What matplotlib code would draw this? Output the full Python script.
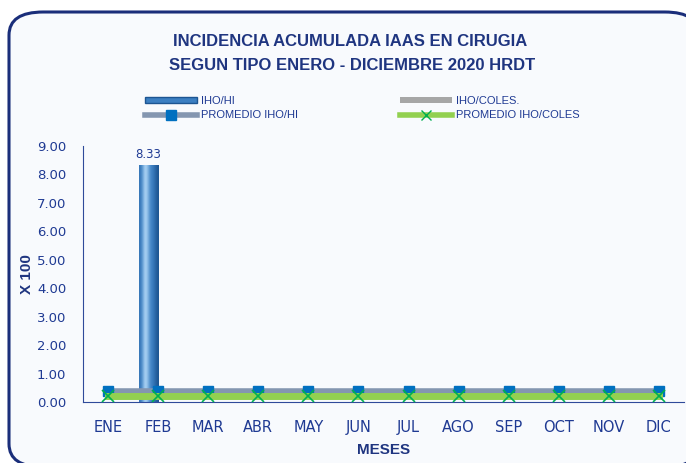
import matplotlib
matplotlib.use("Agg")
import matplotlib.pyplot as plt
import numpy as np
from matplotlib.patches import FancyBboxPatch
from matplotlib.lines import Line2D
from matplotlib.patches import Patch

plt.rcParams['font.family'] = ['Liberation Sans', 'DejaVu Sans']

# data
meses = ["ENE", "FEB", "MAR", "ABR", "MAY", "JUN", "JUL", "AGO", "SEP", "OCT", "NOV", "DIC"]
iho_hi = [0, 8.33, 0, 0, 0, 0, 0, 0, 0, 0, 0, 0]
iho_coles = [0, 0, 0, 0, 0, 0, 0, 0, 0, 0, 0, 0]
prom_iho_hi = [0.38] * 12
prom_iho_coles = [0.21] * 12

navy = "#1F3580"
tick_col = "#1F3A93"

fig = plt.figure(figsize=(6.86, 4.63), dpi=100)
fig.patch.set_facecolor("white")

# rounded frame
frame = FancyBboxPatch((9 / 686, 1 - 467 / 463), 690 / 686, 455 / 463,
                       boxstyle="round,pad=0,rounding_size=0.05",
                       transform=fig.transFigure, facecolor="#F8FAFD",
                       edgecolor="#1A2E7A", linewidth=2.2, zorder=-5)
fig.patches.append(frame)

ax = fig.add_axes([83 / 686, 61 / 463, 601 / 686, 256 / 463])
ax.set_facecolor("none")
ax.set_zorder(2)

x = np.arange(len(meses))
w = 0.38
bars = ax.bar(x - w / 2, iho_hi, width=w, color="#3C7FC2", zorder=2)
# cylinder style gradient on bars
grad = np.array([[0.25, 0.55, 0.95, 0.75, 0.4, 0.3, 0.15, 0.0]])
cmap = matplotlib.colors.LinearSegmentedColormap.from_list(
    "cyl", ["#1D5592", "#3C7FC2", "#6FA8DC", "#B5DAF7"])
for b in bars:
    if b.get_height() <= 0:
        continue
    ax.imshow(grad, cmap=cmap, aspect="auto", interpolation="bicubic",
              extent=[b.get_x(), b.get_x() + b.get_width(), 0, b.get_height()],
              zorder=2.1)
    ax.text(b.get_x() + b.get_width() / 2, b.get_height() + 0.15, f"{b.get_height():.2f}",
            ha="center", va="bottom", fontsize=8.5, color=tick_col, family=['DejaVu Sans'])
ax.bar(x + w / 2, iho_coles, width=w, color="#A6A6A6", zorder=2)

ax.plot(x, prom_iho_hi, color="#8496B0", lw=4, marker="s", markersize=7,
        markerfacecolor="#0070C0", markeredgecolor="#0070C0", zorder=3)
ax.plot(x, prom_iho_coles, color="#92D050", lw=5, zorder=3.5)
ax.plot(x, prom_iho_coles, ls="none", marker="x", markersize=8,
        markeredgecolor="#00B050", markeredgewidth=1.2, zorder=4)

ax.set_xlim(-0.5, 11.5)
ax.set_ylim(0, 9)
ax.set_yticks(np.arange(0, 10, 1))
ax.set_yticklabels([f"{v:.2f}" for v in np.arange(0, 10, 1)])
ax.set_xticks(x)
ax.set_xticklabels(meses)
for s in ["top", "right"]:
    ax.spines[s].set_visible(False)
ax.spines["left"].set_color("#2F4A9A")
ax.spines["bottom"].set_color("#2F4A9A")
ax.tick_params(axis="y", length=0, labelsize=9.5, labelcolor=tick_col, pad=12)
ax.tick_params(axis="x", length=0, labelsize=10.5, labelcolor=tick_col, pad=13)
for t in ax.get_xticklabels() + ax.get_yticklabels():
    t.set_family(['DejaVu Sans'])

ax.set_xlabel("MESES", fontsize=11, fontweight="bold", color=navy, labelpad=6)
ax.set_ylabel("X 100", fontsize=11, fontweight="bold", color=navy, labelpad=2)

fig.text(350 / 686, 1 - 42 / 463, "INCIDENCIA ACUMULADA IAAS EN CIRUGIA",
         ha="center", va="center", fontsize=12, fontweight="bold", color=navy)
fig.text(352 / 686, 1 - 66 / 463, "SEGUN TIPO ENERO - DICIEMBRE 2020 HRDT",
         ha="center", va="center", fontsize=12, fontweight="bold", color=navy)

h_hi = Patch(facecolor="#3C7FC2", edgecolor="#1D5592")
h_coles = Patch(facecolor="#A6A6A6")
h_prom_hi = Line2D([], [], color="#8496B0", lw=4, marker="s", markersize=7,
                   markerfacecolor="#0070C0", markeredgecolor="#0070C0")
h_prom_coles = Line2D([], [], color="#92D050", lw=4, marker="x", markersize=7,
                      markeredgecolor="#00B050")

leg_kw = dict(frameon=False, fontsize=8, handlelength=4.7, handleheight=0.45,
              labelspacing=0.45, handletextpad=0.35, borderpad=0, borderaxespad=0)
leg1 = fig.legend([h_hi, h_prom_hi], ["IHO/HI", "PROMEDIO IHO/HI"], loc="center left",
                  bbox_to_anchor=(145 / 686, 1 - 108 / 463), **leg_kw)
leg2 = fig.legend([h_coles, h_prom_coles], ["IHO/COLES.", "PROMEDIO IHO/COLES"], loc="center left",
                  bbox_to_anchor=(400 / 686, 1 - 108 / 463), **leg_kw)
for leg in (leg1, leg2):
    for t in leg.get_texts():
        t.set_color(tick_col)

fig.savefig("out.png", dpi=100)
